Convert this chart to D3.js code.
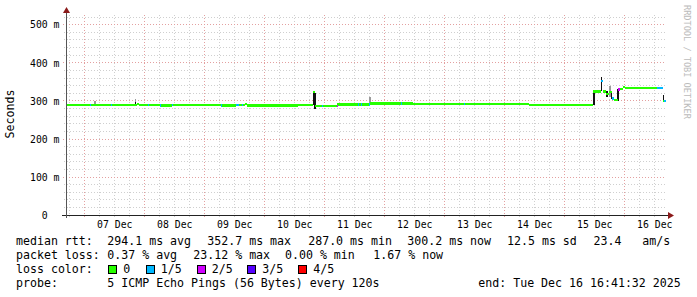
<!DOCTYPE html>
<html>
<head>
<meta charset="utf-8">
<script src="https://cdn.jsdelivr.net/npm/d3@7"></script>
<style>
  html, body { margin: 0; padding: 0; background: #fff; }
  svg { display: block; }
  text { font-family: "DejaVu Sans Mono", monospace; fill: #000; white-space: pre; }
</style>
</head>
<body>
<div id="chart"></div>
<script>
// median rtt (ms) per step: time the step starts, low and high of the median in that step
const medTime = [
  '2025-12-06 16:41', '2025-12-07 21:00', '2025-12-07 21:48', '2025-12-08 06:18',
  '2025-12-08 11:06', '2025-12-09 06:42', '2025-12-09 12:36', '2025-12-09 16:18',
  '2025-12-09 17:06', '2025-12-10 13:24', '2025-12-10 19:36', '2025-12-10 20:24',
  '2025-12-11 05:06', '2025-12-11 18:18', '2025-12-12 11:30', '2025-12-14 09:54',
  '2025-12-15 11:36', '2025-12-15 14:36', '2025-12-15 15:24', '2025-12-15 16:42',
  '2025-12-15 17:54', '2025-12-15 19:06', '2025-12-15 20:00', '2025-12-15 21:36',
  '2025-12-15 22:18', '2025-12-15 23:30', '2025-12-16 00:18', '2025-12-16 15:36'
];
const medLo = [289, 292, 289, 287, 289, 287, 289, 292, 287, 289, 323, 287,
  290.5, 292, 291.5, 288.5, 325, 352.7, 325, 318, 323, 306, 302, 330, 332, 336, 333, 300.2];
const medHi = [289, 292, 289, 289.5, 289, 289.5, 289, 292, 289.5, 289, 323, 287,
  290.5, 295, 291.5, 289, 325, 352.7, 325, 318, 323, 306, 302, 330, 332, 336, 333, 300.2];

// steps with packet loss (1 = 1/5, 2 = 2/5 ...)
const lossTime = [
  '2025-12-07 02:24', '2025-12-07 10:48', '2025-12-08 01:30', '2025-12-08 06:18',
  '2025-12-08 11:06', '2025-12-09 06:42', '2025-12-09 12:36', '2025-12-09 13:00',
  '2025-12-09 13:24', '2025-12-09 15:12', '2025-12-10 23:12', '2025-12-11 05:00',
  '2025-12-11 13:36', '2025-12-11 14:36', '2025-12-11 17:54', '2025-12-12 06:42',
  '2025-12-13 08:00', '2025-12-15 14:36', '2025-12-15 15:00', '2025-12-15 19:06',
  '2025-12-15 19:30', '2025-12-15 21:36', '2025-12-15 22:00', '2025-12-16 13:06',
  '2025-12-16 13:30', '2025-12-16 13:54', '2025-12-16 14:18', '2025-12-16 14:42',
  '2025-12-16 15:06', '2025-12-16 16:00', '2025-12-16 16:24'
];
const lossLevel = [1, 1, 1, 1, 1, 1, 1, 1, 1, 1, 1, 2, 1, 1, 1, 1, 1, 1, 1, 1, 1, 2, 2,
  1, 1, 1, 1, 1, 1, 1, 1];

// smoke (spread of the single pings) where it shows
const smokeTime = [
  '2025-12-07 04:00', '2025-12-07 20:12', '2025-12-07 20:12', '2025-12-10 19:36',
  '2025-12-10 20:00', '2025-12-11 18:00', '2025-12-15 11:36', '2025-12-15 14:36',
  '2025-12-15 16:42', '2025-12-15 17:54', '2025-12-15 18:30', '2025-12-15 21:12',
  '2025-12-16 15:18'
];
const smokeLo = [292, 290, 296, 289, 278, 293, 289, 325, 310, 310, 305, 300, 303];
const smokeHi = [301, 296, 304, 323, 320, 309, 325, 362, 327, 338, 322, 330, 315];
const smokeShade = ['#9a9a9a', '#111', '#9a9a9a', '#111', '#111', '#9a9a9a', '#111', '#111',
  '#111', '#9a9a9a', '#111', '#111', '#111'];

const lossLabels = ['0', '1/5', '2/5', '3/5', '4/5'];
const lossColors = ['#26ff00', '#00b8ff', '#d000ff', '#5500ff', '#ff0000'];

const yTicks = [0, 100, 200, 300, 400, 500];
const rttStats = [294.1, 352.7, 287.0, 300.2];
const lossStats = [0.37, 23.12, 0.00, 1.67];
const sdValue = 12.5;
const amsValue = 23.4;
const probeText = '5 ICMP Echo Pings (56 Bytes) every 120s';
const endText = 'end: Tue Dec 16 16:41:32 2025';

const parse = d3.timeParse('%Y-%m-%d %H:%M');
const start = new Date(2025, 11, 6, 16, 41, 32);
const end = new Date(2025, 11, 16, 16, 41, 32);
const step = 24 * 60 * 1000;

const W = 697, H = 297;
const plotL = 66, plotR = 666, plotT = 15, plotB = 215;

const svg = d3.select('#chart').append('svg')
  .attr('width', W).attr('height', H)
  .style('background', '#fff');

const x = d3.scaleTime().domain([start, end]).range([plotL, plotR]);
const y = d3.scaleLinear().domain([0, 525]).range([215.2, 15.2]);
const px = (v) => Math.floor(v) + 0.5;

// grid
const grid = svg.append('g').attr('shape-rendering', 'crispEdges');
const minorY = d3.range(20, 525, 20).filter((v) => v % 100 !== 0);
grid.selectAll('.gy').data(minorY).join('line')
  .attr('x1', plotL - 2).attr('x2', plotR)
  .attr('y1', (d) => px(y(d))).attr('y2', (d) => px(y(d)))
  .attr('stroke', '#cfcfcf').attr('stroke-dasharray', '1,2');
const minorX = d3.timeHour.every(6).range(start, end).filter((d) => d.getHours() !== 0);
grid.selectAll('.gx').data(minorX).join('line')
  .attr('x1', (d) => px(x(d))).attr('x2', (d) => px(x(d)))
  .attr('y1', plotT).attr('y2', plotB + 2)
  .attr('stroke', '#cfcfcf').attr('stroke-dasharray', '1,2');
grid.selectAll('.my').data(yTicks.filter((v) => v > 0)).join('line')
  .attr('x1', plotL - 3).attr('x2', plotR)
  .attr('y1', (d) => px(y(d))).attr('y2', (d) => px(y(d)))
  .attr('stroke', '#e3a0a0').attr('stroke-dasharray', '1,2');
grid.selectAll('.mx').data(d3.timeDay.range(start, end)).join('line')
  .attr('x1', (d) => px(x(d))).attr('x2', (d) => px(x(d)))
  .attr('y1', plotT).attr('y2', plotB + 3)
  .attr('stroke', '#e3a0a0').attr('stroke-dasharray', '1,2');

// smoke
const marks = svg.append('g').attr('shape-rendering', 'crispEdges');
marks.selectAll('.smoke').data(smokeTime).join('rect')
  .attr('x', (d) => x(parse(d)))
  .attr('width', (d) => Math.max(1.5, x(+parse(d) + step) - x(parse(d))))
  .attr('y', (d, i) => y(smokeHi[i]))
  .attr('height', (d, i) => y(smokeLo[i]) - y(smokeHi[i]))
  .attr('fill', (d, i) => smokeShade[i]);

// median band, green where no loss
const medStart = medTime.map(parse);
const medEnd = medStart.slice(1).concat([end]);
const half = 1.15;
marks.selectAll('.med').data(medStart).join('rect')
  .attr('x', (d) => x(d))
  .attr('width', (d, i) => x(medEnd[i]) - x(d))
  .attr('y', (d, i) => y(medHi[i]) - half)
  .attr('height', (d, i) => y(medLo[i]) - y(medHi[i]) + 2 * half)
  .attr('fill', lossColors[0]);

// loss coloured steps of the median
const medAt = (t) => {
  const i = d3.bisectRight(medStart, t) - 1;
  return [medLo[Math.max(0, i)], medHi[Math.max(0, i)]];
};
marks.selectAll('.loss').data(lossTime).join('rect')
  .attr('x', (d) => x(parse(d)))
  .attr('width', (d) => Math.max(1.2, x(+parse(d) + step) - x(parse(d))))
  .attr('y', (d) => y(medAt(parse(d))[1]) - half)
  .attr('height', (d) => y(medAt(parse(d))[0]) - y(medAt(parse(d))[1]) + 2 * half)
  .attr('fill', (d, i) => lossColors[lossLevel[i]]);

// axes
const yAxis = svg.append('g')
  .attr('transform', `translate(${plotL},0)`)
  .call(d3.axisLeft(y).tickValues(yTicks).tickSize(0).tickPadding(0)
    .tickFormat((d) => (d === 0 ? '  0  ' : d + ' m')));
yAxis.select('.domain').remove();
yAxis.selectAll('text')
  .attr('text-anchor', 'start')
  .attr('x', 30 - plotL)
  .attr('dy', '0.33em')
  .style('font-family', '"DejaVu Sans Mono", monospace')
  .style('font-size', '9.8px')
  .attr('fill', '#000');

const noon = d3.timeDay.range(start, end).map((d) => d3.timeHour.offset(d, 12))
  .filter((d) => d > start && d < end);
const xAxis = svg.append('g')
  .attr('transform', `translate(0,${plotB})`)
  .call(d3.axisBottom(x).tickValues(noon).tickSize(0).tickPadding(0)
    .tickFormat(d3.timeFormat('%d %b')));
xAxis.select('.domain').remove();
xAxis.selectAll('text')
  .attr('y', 12.5)
  .attr('dy', 0)
  .style('font-family', '"DejaVu Sans Mono", monospace')
  .style('font-size', '9.8px')
  .attr('fill', '#000');

// axis lines and arrows
const ax = svg.append('g').attr('shape-rendering', 'crispEdges');
ax.append('line').attr('x1', plotL - 4).attr('x2', plotR + 3)
  .attr('y1', px(y(0))).attr('y2', px(y(0))).attr('stroke', '#222');
ax.append('line').attr('x1', px(plotL)).attr('x2', px(plotL))
  .attr('y1', plotB + 3).attr('y2', 11).attr('stroke', '#555');
svg.append('path')
  .attr('d', `M${plotR + 2},${px(y(0)) - 3.5}L${plotR + 8},${px(y(0))}L${plotR + 2},${px(y(0)) + 3.5}Z`)
  .attr('fill', '#8b1a1a');
svg.append('path')
  .attr('d', `M${px(plotL) - 3.5},13L${px(plotL)},7L${px(plotL) + 3.5},13Z`)
  .attr('fill', '#8b1a1a');

// titles
svg.append('text')
  .attr('transform', 'translate(14,114) rotate(-90)')
  .attr('text-anchor', 'middle')
  .style('font-size', '11.6px')
  .text('Seconds');
svg.append('text')
  .attr('transform', 'translate(684,5) rotate(90)')
  .attr('text-anchor', 'start')
  .style('font-size', '8.6px')
  .style('fill', '#bbb')
  .text('RRDTOOL / TOBI OETIKER');

// legend
const f1 = (v) => v.toFixed(1);
const f2 = (v) => v.toFixed(2);
const legendRows = [
  { y: 245, items: [[16, 'median rtt:'], [107.3, f1(rttStats[0]) + ' ms avg'],
    [207.3, f1(rttStats[1]) + ' ms max'], [308.2, f1(rttStats[2]) + ' ms min'],
    [407.3, f1(rttStats[3]) + ' ms now'], [507, f1(sdValue) + ' ms sd'],
    [593.5, f1(amsValue) + '   am/s']] },
  { y: 259, items: [[16, 'packet loss:'], [107.3, f2(lossStats[0]) + ' % avg'],
    [193.3, f2(lossStats[1]) + ' % max'], [285, f2(lossStats[2]) + ' % min'],
    [373.3, f2(lossStats[3]) + ' % now']] },
  { y: 273, items: [[16, 'loss color:']] },
  { y: 287, items: [[16, 'probe:'], [107.3, probeText], [478.3, endText]] }
];
const legend = svg.append('g').style('font-size', '11.6px');
legendRows.forEach((row) => {
  legend.selectAll(null).data(row.items).join('text')
    .attr('x', (d) => d[0]).attr('y', row.y).text((d) => d[1]);
});
const boxX = [108.5, 146, 197, 247.5, 298.5];
const lg = legend.selectAll('.lc').data(lossLabels).join('g')
  .attr('transform', (d, i) => `translate(${boxX[i]},265.5)`);
lg.append('rect').attr('width', 8).attr('height', 8)
  .attr('fill', (d, i) => lossColors[i]).attr('stroke', '#000')
  .attr('shape-rendering', 'crispEdges');
lg.append('text').attr('x', 14.8).attr('y', 7.5).text((d) => d);
</script>
</body>
</html>
